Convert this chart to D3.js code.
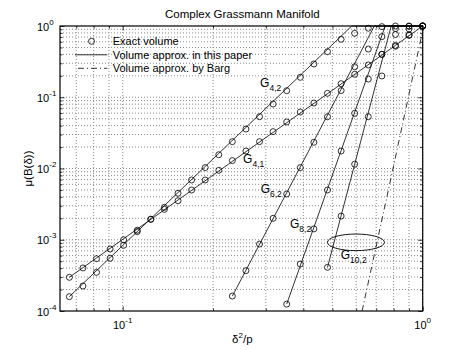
<!DOCTYPE html>
<html>
<head>
<meta charset="utf-8">
<script src="https://cdn.jsdelivr.net/npm/d3@7"></script>
<style>
body { margin: 0; background: #fff; }
svg { display: block; font-family: "Liberation Sans", Arial, Helvetica, sans-serif; }
</style>
</head>
<body>
<div id="chart-area"></div>
<script>
// values of delta^2/p where the exact volume was computed
const deltaSq = [0.0664, 0.0737, 0.0818, 0.0908, 0.1007, 0.1118, 0.1241, 0.1377, 0.1529,
    0.1697, 0.1884, 0.2091, 0.2320, 0.2575, 0.2858, 0.3172, 0.3521, 0.3908, 0.4338,
    0.4815, 0.5346, 0.5933, 0.6586, 0.7310, 0.8114, 0.9006, 1.0];

// exact volume (circles); each series starts at deltaSq[start]
const seriesNames = ["4,1", "4,2", "6,2", "8,2", "10,2"];
const seriesStart = [0, 0, 12, 16, 19];
const exactG41 = [2.97e-4, 4.02e-4, 5.42e-4, 7.41e-4, 1.00e-3, 1.36e-3, 1.94e-3, 2.67e-3, 3.53e-3,
    4.99e-3, 6.9e-3, 9.44e-3, 1.29e-2, 1.76e-2, 2.38e-2, 3.29e-2, 0.045, 0.062, 0.083,
    0.1136, 0.155, 0.21, 0.284, 0.40, 0.534, 0.74, 1.0];
const exactG42 = [1.59e-4, 2.24e-4, 3.49e-4, 5.49e-4, 8.36e-4, 1.30e-3, 1.94e-3, 2.85e-3, 4.49e-3,
    6.9e-3, 1.03e-2, 1.56e-2, 2.38e-2, 3.58e-2, 5.33e-2, 8.04e-2, 0.1236, 0.1905, 0.293,
    0.436, 0.651, 0.79, 0.93, 0.98, 1.0, 1.0, 1.0];
const exactG62 = [1.62e-4, 3.68e-4, 8.7e-4, 2.0e-3, 4.39e-3, 1.03e-2, 2.33e-2, 5.33e-2, 0.124,
    0.268, 0.475, 0.71, 0.92, 0.99, 1.0];
const exactG82 = [1.25e-4, 4.56e-4, 1.42e-3, 4.99e-3, 1.76e-2, 5.95e-2, 0.18, 0.40, 0.76, 0.91, 1.0];
const exactG102 = [4.1e-4, 2.15e-3, 1.15e-2, 5.33e-2, 0.199, 0.52, 0.75, 1.0];

// volume approximation of the paper (solid lines), [delta^2/p, mu]
const approxG41 = [[0.0664, 2.97e-4], [1.0, 1.0]];
const approxG42 = [[0.0664, 1.59e-4], [0.58, 1.0], [1.0, 1.0]];
const approxG62 = [[0.232, 1.62e-4], [0.69, 1.0], [1.0, 1.0]];
const approxG82 = [[0.3521, 1.25e-4], [0.75, 1.0], [1.0, 1.0]];
const approxG102 = [[0.4815, 4.1e-4], [0.785, 1.0], [1.0, 1.0]];

// Barg's approximation (dash-dot)
const approxBarg = [[0.628, 1e-4], [0.784, 7.36e-3], [1.0, 0.865]];

// curve labels, anchored at [delta^2/p, mu]
const labelAnchors = [[0.252, 0.01206], [0.287, 0.139], [0.2884, 4.49e-3], [0.361, 1.476e-3], [0.533, 5.37e-4]];
// ellipse drawn round the G10,2 label
const ellipseCentre = [0.599, 9.2e-4];

const xMajorTicks = [0.1, 1];
const xTickExponents = ["-1", "0"];
const yMajorTicks = [1e-4, 1e-3, 1e-2, 1e-1, 1];
const yTickExponents = ["-4", "-3", "-2", "-1", "0"];
const legendLabels = ["Exact volume", "Volume approx. in this paper", "Volume approx. by Barg"];

const width = 466;
const height = 350;
const margins = {top: 26, right: 43.3, bottom: 39, left: 60};
const graphWidth = width - margins.left - margins.right;
const graphHeight = height - margins.top - margins.bottom;

const svg = d3.select("#chart-area")
    .append("svg")
        .attr("width", width)
        .attr("height", height);

const chartContainer = svg.append("g")
    .attr("transform", `translate(${margins.left}, ${margins.top})`);

const xMapping = d3.scaleLog().domain([0.0618, 1]).range([0, graphWidth]);
const yMapping = d3.scaleLog().domain([1e-4, 1]).range([graphHeight, 0]);

// minor ticks: every 1..9 step inside the domain
const xAll = xMapping.ticks().filter(v => v >= 0.0618 && v <= 1);
const yAll = yMapping.ticks();
const isMajor = v => Math.abs(Math.log10(v) - Math.round(Math.log10(v))) < 1e-6;
const xMinor = xAll.filter(v => !isMajor(v));
const yMinor = yAll.filter(v => !isMajor(v));

// dotted grid
const grid = chartContainer.append("g")
    .attr("stroke", "#8a8a8a")
    .attr("stroke-width", 1)
    .attr("stroke-dasharray", "1,2");
grid.selectAll(".gx").data(xAll).join("line")
    .attr("x1", d => xMapping(d)).attr("x2", d => xMapping(d))
    .attr("y1", 0).attr("y2", graphHeight);
grid.selectAll(".gy").data(yAll.filter(v => v > 1e-4 && v < 1)).join("line")
    .attr("x1", 0).attr("x2", graphWidth)
    .attr("y1", d => yMapping(d)).attr("y2", d => yMapping(d));

// inward ticks on all four sides
function drawTicks(axis, values, size, transform) {
    chartContainer.append("g")
        .attr("transform", transform)
        .call(axis.tickValues(values).tickSize(-size).tickFormat(""))
        .call(g => g.select(".domain").remove())
        .call(g => g.selectAll("line").attr("stroke-width", 0.8));
}
drawTicks(d3.axisBottom(xMapping), xMajorTicks, 4.5, `translate(0, ${graphHeight})`);
drawTicks(d3.axisBottom(xMapping), xMinor, 2.5, `translate(0, ${graphHeight})`);
drawTicks(d3.axisTop(xMapping), xMajorTicks, 4.5, "translate(0, 0)");
drawTicks(d3.axisTop(xMapping), xMinor, 2.5, "translate(0, 0)");
drawTicks(d3.axisLeft(yMapping), yMajorTicks, 4.5, "translate(0, 0)");
drawTicks(d3.axisLeft(yMapping), yMinor, 2.5, "translate(0, 0)");
drawTicks(d3.axisRight(yMapping), yMajorTicks, 4.5, `translate(${graphWidth}, 0)`);
drawTicks(d3.axisRight(yMapping), yMinor, 2.5, `translate(${graphWidth}, 0)`);

// tick labels 10^n
const yLabels = chartContainer.selectAll(".ylab").data(yMajorTicks).join("text")
    .attr("x", -23)
    .attr("y", d => yMapping(d) + 4.5)
    .attr("font-size", 11);
yLabels.append("tspan").text("10");
yLabels.append("tspan").attr("dy", -6).attr("font-size", 8).text((d, i) => yTickExponents[i]);

const xLabels = chartContainer.selectAll(".xlab").data(xMajorTicks).join("text")
    .attr("x", d => xMapping(d))
    .attr("y", graphHeight + 18)
    .attr("text-anchor", "middle")
    .attr("font-size", 11);
xLabels.append("tspan").text("10");
xLabels.append("tspan").attr("dy", -6).attr("font-size", 8).text((d, i) => xTickExponents[i]);

const line = d3.line()
    .x(d => xMapping(d[0]))
    .y(d => yMapping(d[1]));

// paper approximation
[approxG41, approxG42, approxG62, approxG82, approxG102].forEach(pts => {
    chartContainer.append("path")
        .datum(pts)
        .attr("fill", "none")
        .attr("stroke", "#000")
        .attr("stroke-width", 0.8)
        .attr("d", line);
});

// Barg
chartContainer.append("path")
    .datum(approxBarg)
    .attr("fill", "none")
    .attr("stroke", "#000")
    .attr("stroke-width", 0.8)
    .attr("stroke-dasharray", "6,3,1,3")
    .attr("d", line);

// exact volume circles
const exactSeries = [exactG41, exactG42, exactG62, exactG82, exactG102];
exactSeries.forEach((values, s) => {
    const pts = values.map((v, i) => [deltaSq[seriesStart[s] + i], v]);
    chartContainer.append("g")
        .selectAll("circle")
        .data(pts)
        .join("circle")
        .attr("cx", d => xMapping(d[0]))
        .attr("cy", d => yMapping(d[1]))
        .attr("r", 3)
        .attr("fill", "none")
        .attr("stroke", "#000")
        .attr("stroke-width", 0.8);
});

// box
chartContainer.append("rect")
    .attr("width", graphWidth)
    .attr("height", graphHeight)
    .attr("fill", "none")
    .attr("stroke", "#000")
    .attr("stroke-width", 1.2);

// curve labels
const curveLabels = chartContainer.selectAll(".clab").data(seriesNames).join("text")
    .attr("x", (d, i) => xMapping(labelAnchors[i][0]))
    .attr("y", (d, i) => yMapping(labelAnchors[i][1]))
    .attr("font-size", 12);
curveLabels.append("tspan").text("G");
curveLabels.append("tspan").attr("dy", 4).attr("font-size", 8.5).text(d => d);

chartContainer.append("ellipse")
    .attr("cx", xMapping(ellipseCentre[0]))
    .attr("cy", yMapping(ellipseCentre[1]))
    .attr("rx", 28.5)
    .attr("ry", 8.3)
    .attr("fill", "none")
    .attr("stroke", "#000")
    .attr("stroke-width", 0.9);

// title and axis labels
chartContainer.append("text")
    .attr("x", graphWidth / 2 + 1)
    .attr("y", -8)
    .attr("text-anchor", "middle")
    .attr("font-size", 11.5)
    .text("Complex Grassmann Manifold");

const xTitle = chartContainer.append("text")
    .attr("x", graphWidth / 2 + 1)
    .attr("y", graphHeight + 32)
    .attr("text-anchor", "middle")
    .attr("font-size", 11.5);
xTitle.append("tspan").text("δ");
xTitle.append("tspan").attr("dy", -5).attr("font-size", 8).text("2");
xTitle.append("tspan").attr("dy", 5).text("/p");

chartContainer.append("text")
    .attr("transform", "rotate(-90)")
    .attr("x", -graphHeight / 2)
    .attr("y", -28)
    .attr("text-anchor", "middle")
    .attr("font-size", 11.5)
    .text("μ(B(δ))");

// legend (no box)
const legend = chartContainer.append("g")
    .attr("transform", "translate(15, 15.3)");
const rowGap = 13.5;
legend.append("circle")
    .attr("cx", 16.5).attr("cy", 0).attr("r", 3)
    .attr("fill", "none").attr("stroke", "#000").attr("stroke-width", 0.8);
legend.append("line")
    .attr("x1", 0).attr("x2", 32.3).attr("y1", rowGap).attr("y2", rowGap)
    .attr("stroke", "#000").attr("stroke-width", 0.8);
legend.append("line")
    .attr("x1", 0).attr("x2", 32.3).attr("y1", 2 * rowGap).attr("y2", 2 * rowGap)
    .attr("stroke", "#000").attr("stroke-width", 0.8)
    .attr("stroke-dasharray", "6,3,1,3")
    .attr("stroke-dashoffset", -3);
legend.selectAll(".ltext").data(legendLabels).join("text")
    .attr("x", 37.7)
    .attr("y", (d, i) => i * rowGap + 4)
    .attr("font-size", 11)
    .text(d => d);
</script>
</body>
</html>
